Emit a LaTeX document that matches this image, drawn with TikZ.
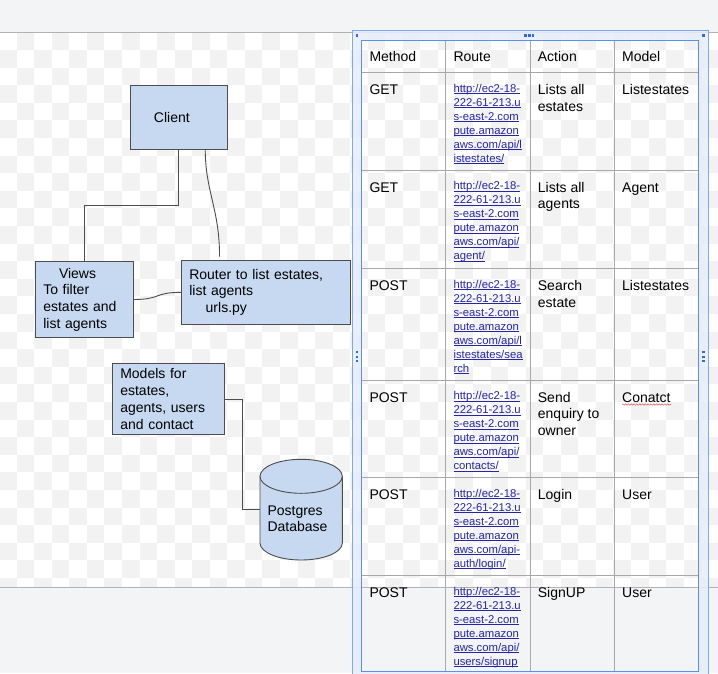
\documentclass[tikz,border=0pt]{standalone}
\usepackage{fontspec}
\setmainfont{Liberation Sans}
\usetikzlibrary{calc,decorations.pathmorphing}

\definecolor{pagegray}{HTML}{F3F4F6}
\definecolor{checkgray}{HTML}{F2F2F2}
\definecolor{rulegray}{HTML}{B2B2B2}
\definecolor{boxfill}{HTML}{C6D9F0}
\definecolor{boxline}{HTML}{4D4D4D}
\definecolor{gridgray}{HTML}{A8A8A8}
\definecolor{selblue}{HTML}{5A8FEE}
\definecolor{selouter}{HTML}{7FA8F2}
\definecolor{seltint}{HTML}{E6EEFC}
\definecolor{handleblue}{HTML}{2E6BDF}
\definecolor{linkblue}{HTML}{2525A8}
\definecolor{spellred}{HTML}{E06A6A}

\newcommand\txtfont{\fontsize{14pt}{16.7pt}\selectfont}
\newcommand\urlfont{\fontsize{11.3pt}{14pt}\selectfont}
% text cell: baseline of the first line sits on the node's base
\newcommand\tcell[1]{\parbox[t]{76pt}{\raggedright\txtfont #1}}
% link cell: underlined blue lines
\newcommand\ucell[1]{\parbox[t]{80pt}{\raggedright\urlfont\leavevmode\color{linkblue}#1}}
\newlength\ulkwd
\newcommand\ulk[1]{\leavevmode\settowidth\ulkwd{#1}\rlap{\rule[-1.5pt]{\ulkwd}{0.65pt}}#1}

\tikzset{
  box/.style={draw=boxline, fill=boxfill, line width=0.9pt, font=\txtfont,
    inner xsep=7.6pt, inner ysep=0pt, align=left},
  wire/.style={draw=boxline, line width=0.9pt},
  celltext/.style={anchor=base west, inner sep=0pt},
  grid/.style={draw=gridgray, line width=1pt},
  handle/.style={fill=handleblue},
}

\begin{document}
\begin{tikzpicture}[x=1pt,y=-1pt]
\useasboundingbox (0,0) rectangle (718,673);

% page background and transparent-area checkerboard
\fill[pagegray] (0,0) rectangle (718,673);
\begin{scope}
  \clip (0,32.5) rectangle (718,587);
  \fill[white] (0,32.5) rectangle (718,587);
  \foreach \j in {0,...,31}{
    \pgfmathtruncatemacro\ck{1-mod(\j,2)}
    \foreach \m in {0,...,20}{
      \pgfmathsetmacro\xx{-0.85+17.55*(\ck+2*\m)}
      \pgfmathsetmacro\yy{32.3+17.6*\j}
      \fill[checkgray] (\xx,\yy) rectangle ++(17.55,17.6);
    }
  }
\end{scope}
\draw[rulegray, line width=1pt] (0,32.5) -- (718,32.5);
\draw[rulegray, line width=1pt] (0,587) -- (718,587);

% ---------------- architecture boxes ----------------
\node[box, text width=82.5pt, minimum height=63.7pt, align=center] (client)
  at (178.85,117.15) {\hspace*{-14pt}Client};

\node[box, text width=82.1pt, minimum height=75.6pt] (views) at (84.35,299.5)
  {\hspace*{15.7pt}Views\\To filter\\estates and\\list agents};

\node[box, text width=153.8pt, minimum height=63.3pt] (router) at (266.2,292.35)
  {Router to list estates,\\list agents\\\hspace*{16.4pt}urls.py};

\node[box, text width=96.8pt, minimum height=71.4pt] (models) at (168.7,399)
  {Models for\\estates,\\agents, users\\and contact};

% database cylinder
\fill[boxfill] (260,476.3) -- (260,543)
  arc[start angle=180, end angle=360, x radius=41.15pt, y radius=17pt]
  -- (342.3,476.3) -- cycle;
\draw[boxline, line width=0.9pt] (260,476.3) -- (260,543)
  arc[start angle=180, end angle=360, x radius=41.15pt, y radius=17pt]
  -- (342.3,476.3);
\draw[boxline, fill=boxfill, line width=0.9pt] (301.15,476.3)
  ellipse[x radius=41.15pt, y radius=17pt];
\node[minimum width=82.3pt, minimum height=100.7pt, inner sep=0pt] (db)
  at (301.15,509.65) {};
\node[celltext] (dblabel) at (267.3,515.1) {\tcell{Postgres\\Database}};

% connectors
\coordinate (routertop) at ($(router.north west)+(38.3,-3.7)$);
\draw[wire] (client.south) -- ++(0,56) -| (views.north);
\draw[wire] ($(client.south)+(26.4,0)$) .. controls +(0,42) and +(0,-48) .. (routertop);
\draw[wire] (views.east) .. controls +(28,0) and +(-28,0) .. (router.west);
\draw[wire] (models.east) -- ++(17.6,0) |- (db.west);

% ---------------- routes table ----------------
% selection frame tint
\fill[seltint, opacity=0.85, even odd rule]
  (352.3,30.7) rectangle (708.3,690) (361.7,40.7) rectangle (698.3,671.7);

% cell grid
\foreach \y in {72.3,170,268.3,380,477.3,575.7}
  \draw[grid] (361.7,\y) -- (698.3,\y);
\foreach \x in {445.7,530,614.3}
  \draw[grid] (\x,40.7) -- (\x,671.7);

% table and selection outlines
\draw[selblue, line width=1.2pt] (361.7,40.7) rectangle (698.3,671.7);
\draw[selouter, line width=1.3pt] (352.3,690) -- (352.3,30.7) -- (708.3,30.7) -- (708.3,690);

% selection handles
\foreach \hx/\hy in {355.5/34.2, 702.2/34.2, 524.3/34.2, 528.2/34.2, 532.0/34.2,
    355.5/351, 355.5/355.5, 355.5/360, 702.2/351, 702.2/355.5, 702.2/360}
  \fill[handle] (\hx,\hy) rectangle ++(2.4,2.4);

% header
\node[celltext] (hmethod) at (369.3,61.9) {\tcell{Method}};
\node[celltext] (hroute)  at (453.3,61.9) {\tcell{Route}};
\node[celltext] (haction) at (537.7,61.9) {\tcell{Action}};
\node[celltext] (hmodel)  at (622,61.9)   {\tcell{Model}};

% row 1
\node[celltext] (m1) at (369.3,94.5) {\tcell{GET}};
\node[celltext] (u1) at (453.3,92.0) {\ucell{\ulk{http://ec2-18-}\\\ulk{222-61-213.u}\\\ulk{s-east-2.com}\\\ulk{pute.amazon}\\\ulk{aws.com/api/l}\\\ulk{istestates/}}};
\node[celltext] (a1) at (537.7,94.5) {\tcell{Lists all\\estates}};
\node[celltext] (o1) at (622,94.5)   {\tcell{Listestates}};

% row 2
\node[celltext] (m2) at (369.3,192.2) {\tcell{GET}};
\node[celltext] (u2) at (453.3,189.7) {\ucell{\ulk{http://ec2-18-}\\\ulk{222-61-213.u}\\\ulk{s-east-2.com}\\\ulk{pute.amazon}\\\ulk{aws.com/api/}\\\ulk{agent/}}};
\node[celltext] (a2) at (537.7,192.2) {\tcell{Lists all\\agents}};
\node[celltext] (o2) at (622,192.2)   {\tcell{Agent}};

% row 3
\node[celltext] (m3) at (369.3,290.5) {\tcell{POST}};
\node[celltext] (u3) at (453.3,288.0) {\ucell{\ulk{http://ec2-18-}\\\ulk{222-61-213.u}\\\ulk{s-east-2.com}\\\ulk{pute.amazon}\\\ulk{aws.com/api/l}\\\ulk{istestates/sea}\\\ulk{rch}}};
\node[celltext] (a3) at (537.7,290.5) {\tcell{Search\\estate}};
\node[celltext] (o3) at (622,290.5)   {\tcell{Listestates}};

% row 4
\node[celltext] (m4) at (369.3,402.2) {\tcell{POST}};
\node[celltext] (u4) at (453.3,399.7) {\ucell{\ulk{http://ec2-18-}\\\ulk{222-61-213.u}\\\ulk{s-east-2.com}\\\ulk{pute.amazon}\\\ulk{aws.com/api/}\\\ulk{contacts/}}};
\node[celltext] (a4) at (537.7,402.2) {\tcell{Send\\enquiry to\\owner}};
\node[celltext] (o4) at (622,402.2)   {\tcell{Conatct}};
\draw[spellred, line width=0.6pt, decorate,
  decoration={snake, amplitude=0.7pt, segment length=2.8pt}] (622,404.5) -- (671,404.5);

% row 5
\node[celltext] (m5) at (369.3,499.5) {\tcell{POST}};
\node[celltext] (u5) at (453.3,497.0) {\ucell{\ulk{http://ec2-18-}\\\ulk{222-61-213.u}\\\ulk{s-east-2.com}\\\ulk{pute.amazon}\\\ulk{aws.com/api-}\\\ulk{auth/login/}}};
\node[celltext] (a5) at (537.7,499.5) {\tcell{Login}};
\node[celltext] (o5) at (622,499.5)   {\tcell{User}};

% row 6
\node[celltext] (m6) at (369.3,597.9) {\tcell{POST}};
\node[celltext] (u6) at (453.3,595.4) {\ucell{\ulk{http://ec2-18-}\\\ulk{222-61-213.u}\\\ulk{s-east-2.com}\\\ulk{pute.amazon}\\\ulk{aws.com/api/}\\\ulk{users/signup}}};
\node[celltext] (a6) at (537.7,597.9) {\tcell{SignUP}};
\node[celltext] (o6) at (622,597.9)   {\tcell{User}};

\end{tikzpicture}
\end{document}
